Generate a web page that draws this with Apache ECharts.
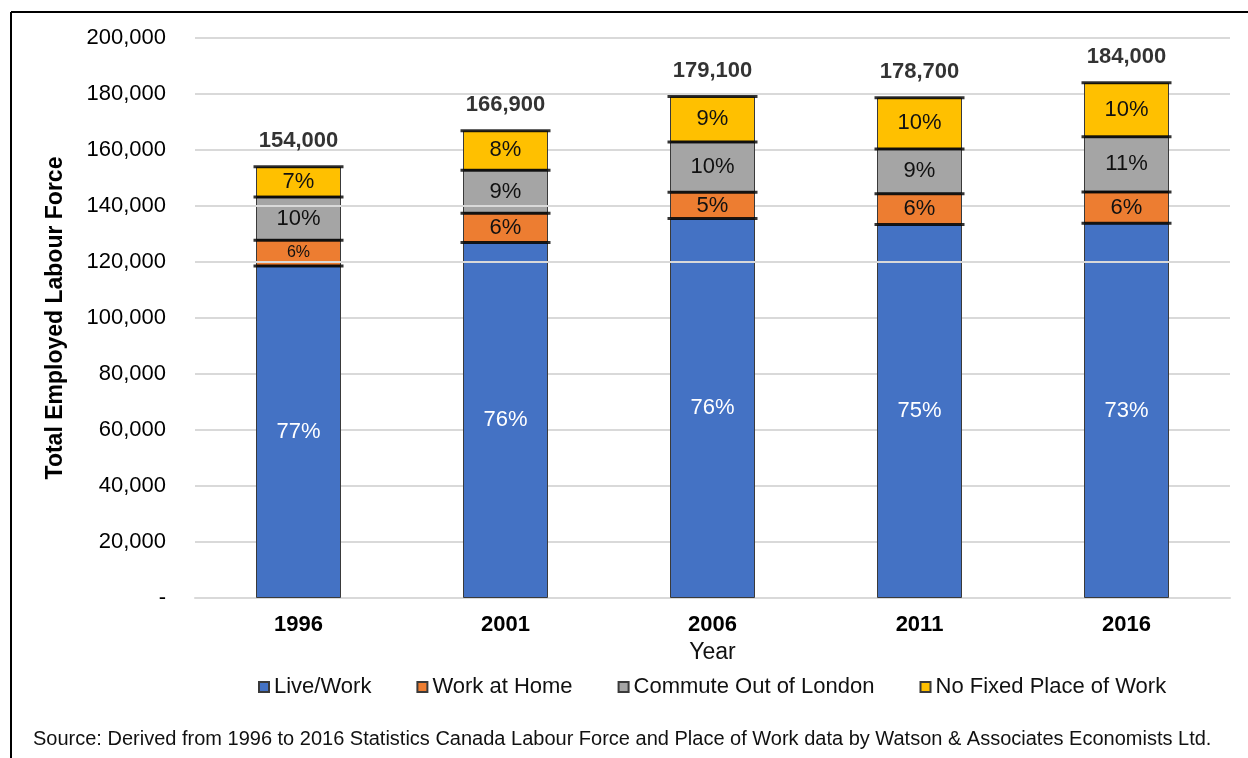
<!DOCTYPE html>
<html>
<head>
<meta charset="utf-8">
<script src="https://cdn.jsdelivr.net/npm/echarts@6/dist/echarts.min.js"></script>
<style>
  html, body { margin: 0; padding: 0; background: #fff; }
  #chart { width: 1248px; height: 758px; }
</style>
</head>
<body>
<div id="chart"></div>
<script>
// Employed labour force by place of work, 1996-2016
const years = ['1996', '2001', '2006', '2011', '2016'];
const liveWork      = [118600, 127000, 135500, 133400, 133800];
const workAtHome    = [9200, 10400, 9400, 11000, 11200];
const commuteOut    = [15400, 15400, 18000, 16000, 19700];
const noFixedPlace  = [10800, 14100, 16200, 18300, 19300];
const seriesNames = ['Live/Work', 'Work at Home', 'Commute Out of London', 'No Fixed Place of Work'];
const yTicks = [0, 20000, 40000, 60000, 80000, 100000, 120000, 140000, 160000, 180000, 200000];

const FONT = '"Liberation Sans", Arial, sans-serif';
const colors = ['#4472C4', '#ED7D31', '#A5A5A5', '#FFC000'];
const stacks = [liveWork, workAtHome, commuteOut, noFixedPlace];

const totals = years.map((_, i) => stacks.reduce((s, arr) => s + arr[i], 0));
const fmt = v => v.toLocaleString('en-US');

// cumulative top of each segment, used for the black divider strokes
const dividers = [];
years.forEach((y, i) => {
  let acc = 0;
  stacks.forEach(arr => { acc += arr[i]; dividers.push([y, acc]); });
});

const barSeries = stacks.map((arr, si) => ({
  name: seriesNames[si],
  type: 'bar',
  stack: 'force',
  barWidth: 85,
  z: 2,
  itemStyle: { color: colors[si], borderColor: '#3a3a3a', borderWidth: 1 },
  label: {
    show: true,
    position: 'inside',
    fontFamily: FONT,
    fontSize: 22,
    color: si === 0 ? '#ffffff' : '#111111',
    formatter: p => Math.round(p.value / totals[p.dataIndex] * 100) + '%'
  },
  data: arr.map((v, i) => (si === 1 && i === 0)
    ? { value: v, label: { fontSize: 16 } }
    : v)
}));

const chart = echarts.init(document.getElementById('chart'));
chart.setOption({
  animation: false,
  backgroundColor: '#ffffff',
  grid: { left: 195, right: 18, top: 38, bottom: 160 },
  xAxis: [{
    type: 'category',
    data: years,
    name: 'Year',
    nameLocation: 'middle',
    nameGap: 40,
    nameTextStyle: { fontFamily: FONT, fontSize: 23, color: '#111' },
    axisLine: { lineStyle: { color: '#d9d9d9', width: 2 } },
    axisTick: { show: false },
    axisLabel: { fontFamily: FONT, fontSize: 22, fontWeight: 'bold', color: '#000', margin: 16 }
  }, {
    type: 'value', min: 0, max: 5, show: false
  }],
  yAxis: {
    type: 'value',
    min: 0, max: 200000, interval: 20000,
    name: 'Total Employed Labour Force',
    nameLocation: 'middle',
    nameGap: 128,
    nameTextStyle: { fontFamily: FONT, fontSize: 23, fontWeight: 'bold', color: '#000' },
    axisLine: { show: false },
    axisTick: { show: false },
    splitLine: { lineStyle: { color: '#d9d9d9', width: 2 } },
    axisLabel: {
      fontFamily: FONT, fontSize: 22, color: '#000', margin: 29,
      formatter: v => (v === 0 ? '-' : fmt(v)),
      customValues: yTicks
    }
  },
  legend: {
    top: 671,
    left: 253,
    itemWidth: 10,
    itemHeight: 10,
    itemGap: 45,
    icon: 'rect',
    textStyle: { fontFamily: FONT, fontSize: 22, color: '#111' },
    data: seriesNames
  },
  series: [
    ...barSeries,
    {
      name: 'dividers',
      type: 'scatter',
      symbol: 'rect',
      symbolSize: [90, 3],
      itemStyle: { color: '#000' },
      z: 4,
      silent: true,
      data: dividers
    },
    {
      name: 'totals',
      type: 'scatter',
      symbolSize: 0,
      z: 5,
      silent: true,
      label: {
        show: true,
        position: 'top',
        distance: 15,
        fontFamily: FONT,
        fontSize: 22,
        fontWeight: 'bold',
        color: '#000',
        formatter: p => fmt(p.value[1])
      },
      data: years.map((y, i) => [y, totals[i]])
    },
    {
      // gridline strokes that run over the bars
      name: 'overGrid120',
      type: 'line',
      xAxisIndex: 1,
      symbol: 'none',
      silent: true,
      z: 3,
      lineStyle: { color: '#d9d9d9', width: 2 },
      data: [[0, 120000], [5, 120000]]
    },
    {
      name: 'overGrid140',
      type: 'line',
      xAxisIndex: 1,
      symbol: 'none',
      silent: true,
      z: 3,
      lineStyle: { color: '#d9d9d9', width: 2 },
      data: [[0, 140000], [2, 140000]]
    }
  ],
  graphic: [
    { type: 'line', shape: { x1: 11, y1: 12, x2: 1248, y2: 12 }, style: { stroke: '#000', lineWidth: 2 } },
    { type: 'line', shape: { x1: 11, y1: 12, x2: 11, y2: 758 }, style: { stroke: '#000', lineWidth: 2 } },
    {
      type: 'text', left: 33, top: 729,
      style: {
        text: 'Source: Derived from 1996 to 2016 Statistics Canada Labour Force and Place of Work data by Watson & Associates Economists Ltd.',
        font: '20px "Liberation Sans", Arial, sans-serif',
        fill: '#111'
      }
    }
  ]
});
</script>
</body>
</html>
